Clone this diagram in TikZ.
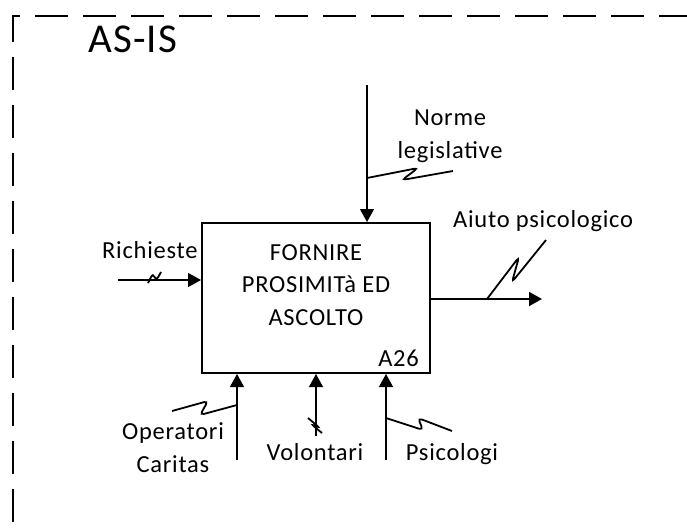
\documentclass[tikz,border=0pt]{standalone}
\usepackage{fontspec}
\setmainfont{Carlito}[LetterSpace=3]
\usetikzlibrary{arrows.meta, positioning, calc}
\tikzset{
  frame/.style={line width=2pt, dash pattern=on 33pt off 15pt, dash phase=39pt},
  actbox/.style={rectangle, draw, line width=2pt, minimum width=228pt,
    minimum height=150pt, inner sep=0pt},
  arrow/.style={-{Triangle[length=13pt,width=14pt]}, line width=1.2pt},
  squig/.style={line width=1.8pt, rounded corners=4pt},
  lbl/.style={font=\fontsize{24.5}{32.5}\selectfont, inner sep=0pt, align=center},
  ttl/.style={font=\fontsize{41}{48}\selectfont, inner sep=0pt}
}

\begin{document}
\begin{tikzpicture}[x=1pt, y=-1pt]
  \useasboundingbox (0,0) rectangle (687,531);
  \draw[frame] (13,531) -- (13,16) -- (687,16);
  \node[ttl, anchor=base west] (asis) at (88,52) {AS-IS};

  \node[actbox] (act) at (316,298) {};
  \node[lbl, anchor=base] (acttxt) at (316,325) {FORNIRE\\PROSIMITà ED\\ASCOLTO};
  \node[lbl, anchor=base east] (code) at (419,366) {A26};

  \coordinate (nrm) at (367,85);
  \coordinate (ric) at (118,280);
  \coordinate (aiu) at (542,299);
  \coordinate (ope) at (237,460);
  \coordinate (vol) at (316,436);
  \coordinate (psi) at (386,460);

  \draw[arrow] (nrm) -- (nrm |- act.north);
  \draw[arrow] (ric) -- (ric -| act.west);
  \draw[arrow, line width=1.8pt] (act.east |- aiu) -- (aiu);
  \draw[arrow] (ope) -- (ope |- act.south);
  \draw[arrow] (vol) -- (vol |- act.south);
  \draw[arrow] (psi) -- (psi |- act.south);

  \draw[squig] (367,178) -- (418,168) -- (402,180) -- (453,171);
  \draw[squig] (148,283) -- (153,273) -- (156,281) -- (161,272);
  \draw[squig] (487,299) -- (519,257) -- (512,282) -- (546,240);
  \draw[squig] (237,405) -- (200,415) -- (208,401) -- (172,411);
  \draw[squig] (308,418) -- (320,428) -- (311,424) -- (322,433);
  \draw[squig] (386,418) -- (423,430) -- (418,418) -- (452,431);

  \node[lbl, anchor=base] (norme) at (450,158) {Norme\\legislative};
  \node[lbl, anchor=base west] (rich) at (102,258) {Richieste};
  \node[lbl, anchor=base west] (aiuto) at (453,227) {Aiuto psicologico};
  \node[lbl, anchor=base] (oper) at (173,472) {Operatori\\Caritas};
  \node[lbl, anchor=base] (volo) at (315,460) {Volontari};
  \node[lbl, anchor=base] (psico) at (452,460) {Psicologi};
\end{tikzpicture}
\end{document}
